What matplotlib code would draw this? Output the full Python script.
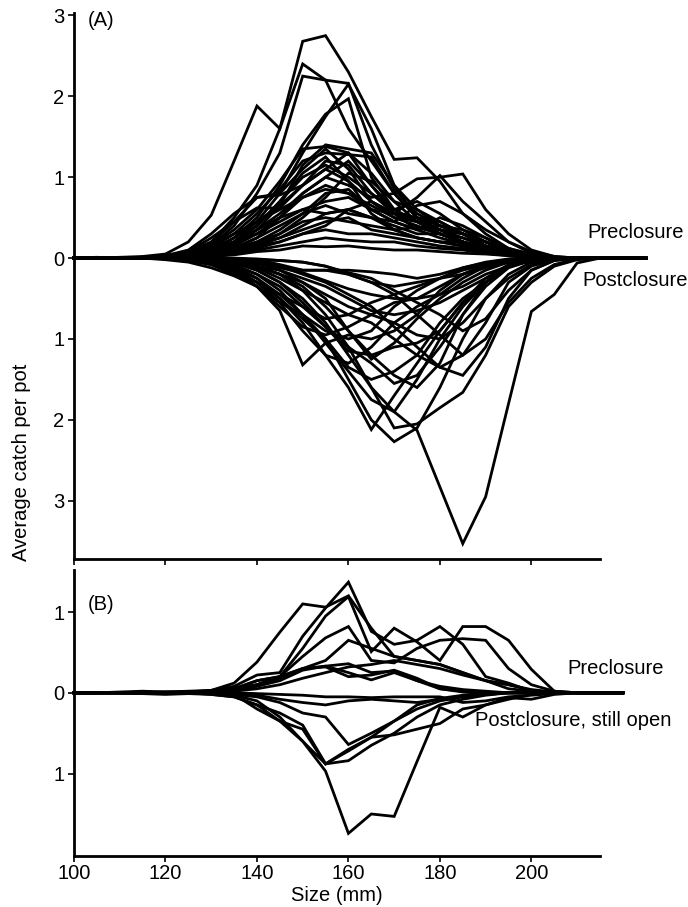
import matplotlib
matplotlib.use("Agg")
import matplotlib.pyplot as plt

plt.rcParams['font.family'] = ['Liberation Sans', 'DejaVu Sans']

# ---------------- data ----------------
SIZE_A = [100, 105, 110, 115, 120, 125, 130, 135, 140, 145, 150, 155, 160,
          165, 170, 175, 180, 185, 190, 195, 200, 205, 210, 215, 220, 225]
SIZE_B = [100, 105, 110, 115, 120, 125, 130, 135, 140, 145, 150, 155, 160,
          165, 170, 175, 180, 185, 190, 195, 200, 205, 210, 215, 220]

PRE_A = [
    [0, 0.01, 0, 0.01, 0.03, 0.08, 0.2, 0.5, 0.9, 1.6, 2.68, 2.75, 2.3, 1.75, 1.22, 1.24, 0.95, 0.55, 0.3, 0.12, 0.04, 0.01, 0, 0, 0, 0],
    [0, 0, 0.01, 0.02, 0.05, 0.2, 0.53, 1.2, 1.88, 1.6, 2.4, 2.2, 2.16, 1.4, 0.85, 0.55, 0.4, 0.3, 0.15, 0.06, 0.02, 0, 0, 0, 0, 0],
    [0, 0, 0, 0.01, 0.02, 0.06, 0.15, 0.4, 0.8, 1.3, 2.25, 2.2, 1.6, 1.2, 0.8, 0.5, 0.3, 0.2, 0.1, 0.04, 0.01, 0, 0, 0, 0, 0],
    [0, 0, 0, 0, 0.01, 0.03, 0.1, 0.25, 0.5, 0.9, 1.4, 1.78, 1.97, 1.0, 0.6, 0.45, 0.3, 0.2, 0.1, 0.03, 0.01, 0, 0, 0, 0, 0],
    [0, 0, 0, 0, 0.01, 0.02, 0.08, 0.2, 0.45, 0.8, 1.3, 1.75, 2.15, 1.6, 0.9, 0.5, 0.35, 0.2, 0.1, 0.04, 0.01, 0, 0, 0, 0, 0],
    [0, 0, 0, 0.01, 0.02, 0.05, 0.15, 0.35, 0.6, 0.95, 1.35, 1.38, 1.3, 0.9, 0.6, 0.45, 0.35, 0.25, 0.15, 0.06, 0.02, 0, 0, 0, 0, 0],
    [0, 0, 0, 0, 0.01, 0.04, 0.12, 0.3, 0.55, 0.85, 1.2, 1.3, 1.28, 1.25, 0.8, 0.5, 0.3, 0.2, 0.1, 0.05, 0.02, 0, 0, 0, 0, 0],
    [0, 0, 0, 0, 0.02, 0.05, 0.18, 0.45, 0.75, 0.8, 1.1, 1.35, 1.1, 0.7, 0.55, 0.5, 0.4, 0.3, 0.2, 0.08, 0.02, 0, 0, 0, 0, 0],
    [0, 0, 0, 0, 0.01, 0.03, 0.1, 0.2, 0.4, 0.7, 1.0, 1.15, 1.0, 0.8, 0.6, 0.7, 0.55, 0.35, 0.2, 0.08, 0.02, 0, 0, 0, 0, 0],
    [0, 0, 0, 0, 0.01, 0.03, 0.08, 0.18, 0.35, 0.55, 0.8, 1.0, 0.9, 0.75, 0.8, 0.98, 1.0, 1.04, 0.6, 0.3, 0.1, 0.02, 0, 0, 0, 0],
    [0, 0, 0, 0, 0.01, 0.02, 0.06, 0.15, 0.3, 0.5, 0.75, 0.9, 0.8, 0.6, 0.55, 0.75, 1.02, 0.7, 0.45, 0.2, 0.06, 0.01, 0, 0, 0, 0],
    [0, 0, 0, 0.01, 0.03, 0.1, 0.3, 0.55, 0.75, 0.78, 0.9, 1.1, 0.95, 0.7, 0.5, 0.4, 0.3, 0.2, 0.12, 0.05, 0.01, 0, 0, 0, 0, 0],
    [0, 0, 0, 0, 0.02, 0.08, 0.25, 0.45, 0.62, 0.62, 0.9, 1.2, 1.15, 0.8, 0.55, 0.35, 0.25, 0.18, 0.1, 0.04, 0.01, 0, 0, 0, 0, 0],
    [0, 0, 0, 0, 0.01, 0.05, 0.15, 0.3, 0.45, 0.6, 0.75, 0.85, 0.8, 0.65, 0.5, 0.45, 0.35, 0.3, 0.2, 0.1, 0.03, 0.01, 0, 0, 0, 0],
    [0, 0, 0, 0, 0.01, 0.03, 0.1, 0.2, 0.3, 0.45, 0.6, 0.7, 0.75, 0.6, 0.45, 0.35, 0.4, 0.35, 0.25, 0.12, 0.05, 0.01, 0, 0, 0, 0],
    [0, 0, 0, 0, 0.01, 0.02, 0.05, 0.12, 0.25, 0.4, 0.55, 0.65, 0.55, 0.5, 0.4, 0.3, 0.3, 0.25, 0.15, 0.08, 0.03, 0.01, 0, 0, 0, 0],
    [0, 0, 0, 0, 0, 0.02, 0.06, 0.12, 0.2, 0.3, 0.45, 0.5, 0.45, 0.4, 0.35, 0.38, 0.3, 0.2, 0.12, 0.06, 0.02, 0, 0, 0, 0, 0],
    [0, 0, 0, 0, 0, 0.01, 0.04, 0.1, 0.18, 0.25, 0.35, 0.45, 0.5, 0.35, 0.3, 0.25, 0.2, 0.2, 0.15, 0.1, 0.04, 0.01, 0, 0, 0, 0],
    [0, 0, 0, 0, 0, 0.01, 0.03, 0.08, 0.15, 0.2, 0.3, 0.35, 0.3, 0.3, 0.25, 0.2, 0.15, 0.12, 0.08, 0.04, 0.01, 0, 0, 0, 0, 0],
    [0, 0, 0, 0, 0, 0.01, 0.02, 0.05, 0.1, 0.15, 0.2, 0.25, 0.22, 0.2, 0.2, 0.15, 0.12, 0.1, 0.06, 0.03, 0.01, 0, 0, 0, 0, 0],
    [0, 0, 0, 0, 0, 0.01, 0.02, 0.04, 0.08, 0.1, 0.15, 0.14, 0.15, 0.12, 0.1, 0.1, 0.08, 0.06, 0.05, 0.03, 0.01, 0, 0, 0, 0, 0],
    [0, 0, 0, 0, 0, 0.01, 0.03, 0.08, 0.15, 0.25, 0.4, 0.55, 0.6, 0.5, 0.45, 0.65, 0.7, 0.55, 0.35, 0.2, 0.08, 0.02, 0, 0, 0, 0],
    [0, 0, 0, 0, 0.01, 0.03, 0.08, 0.2, 0.4, 0.7, 1.05, 1.25, 0.95, 0.55, 0.35, 0.25, 0.2, 0.15, 0.1, 0.05, 0.02, 0, 0, 0, 0, 0],
    [0, 0, 0, 0, 0.01, 0.04, 0.1, 0.25, 0.45, 0.65, 0.9, 1.1, 1.3, 1.05, 0.7, 0.45, 0.3, 0.2, 0.12, 0.05, 0.02, 0, 0, 0, 0, 0],
    [0, 0, 0, 0, 0.01, 0.02, 0.05, 0.12, 0.25, 0.5, 0.8, 1.0, 1.2, 0.9, 0.55, 0.5, 0.45, 0.3, 0.2, 0.1, 0.03, 0.01, 0, 0, 0, 0],
    [0, 0, 0, 0, 0, 0.01, 0.04, 0.1, 0.2, 0.35, 0.55, 0.8, 0.85, 0.6, 0.45, 0.35, 0.5, 0.4, 0.25, 0.1, 0.03, 0.01, 0, 0, 0, 0],
    [0, 0, 0, 0, 0, 0.01, 0.02, 0.06, 0.12, 0.2, 0.3, 0.4, 0.6, 0.7, 0.55, 0.45, 0.35, 0.3, 0.2, 0.1, 0.04, 0.01, 0, 0, 0, 0],
    [0, 0, 0, 0, 0.01, 0.03, 0.1, 0.2, 0.35, 0.5, 0.6, 0.55, 0.6, 0.5, 0.35, 0.25, 0.2, 0.15, 0.1, 0.05, 0.02, 0, 0, 0, 0, 0],
    [0, 0, 0, 0, 0.01, 0.02, 0.06, 0.15, 0.35, 0.65, 1.15, 1.4, 1.35, 1.3, 0.9, 0.6, 0.4, 0.3, 0.2, 0.1, 0.03, 0.01, 0, 0, 0, 0],
    [0, 0, 0, 0, 0, 0.01, 0.03, 0.08, 0.15, 0.3, 0.5, 0.75, 1.05, 0.95, 0.7, 0.6, 0.45, 0.3, 0.15, 0.06, 0.02, 0, 0, 0, 0, 0],
]

POST_A = [
    [0, 0, 0, 0, 0, -0.01, -0.02, -0.05, -0.1, -0.2, -0.4, -0.7, -1.1, -1.6, -1.9, -2.13, -2.83, -3.53, -2.95, -1.8, -0.66, -0.45, -0.06, 0, 0, 0],
    [0, 0, 0, 0, 0, -0.01, -0.02, -0.08, -0.2, -0.4, -0.7, -1.0, -1.5, -2.0, -2.27, -2.1, -1.6, -1.0, -0.5, -0.2, -0.05, -0.01, 0, 0, 0, 0],
    [0, 0, 0, 0, 0, -0.01, -0.03, -0.1, -0.25, -0.5, -0.8, -1.2, -1.6, -2.12, -1.7, -1.3, -0.9, -0.55, -0.3, -0.1, -0.03, 0, 0, 0, 0, 0],
    [0, 0, 0, 0, 0, 0, -0.02, -0.05, -0.15, -0.3, -0.5, -0.8, -1.2, -1.6, -2.1, -2.05, -1.85, -1.66, -1.2, -0.6, -0.3, -0.1, -0.02, 0, 0, 0],
    [0, 0, 0, 0, 0, -0.02, -0.08, -0.2, -0.35, -0.65, -1.32, -1.05, -0.95, -1.0, -0.9, -0.7, -0.4, -0.2, -0.08, -0.02, 0, 0, 0, 0, 0, 0],
    [0, 0, 0, 0, 0, -0.01, -0.05, -0.15, -0.3, -0.5, -0.75, -1.0, -1.35, -1.5, -1.4, -1.2, -0.8, -0.5, -0.3, -0.1, -0.03, 0, 0, 0, 0, 0],
    [0, 0, 0, 0, 0, -0.01, -0.03, -0.12, -0.3, -0.55, -0.9, -1.2, -1.3, -1.1, -0.8, -0.6, -0.45, -0.25, -0.1, -0.03, 0, 0, 0, 0, 0, 0],
    [0, 0, 0, 0, 0, 0, -0.02, -0.05, -0.1, -0.2, -0.35, -0.6, -0.9, -1.2, -1.45, -1.6, -1.3, -0.7, -0.3, -0.1, -0.02, 0, 0, 0, 0, 0],
    [0, 0, 0, 0, 0, 0, -0.01, -0.05, -0.12, -0.25, -0.4, -0.55, -0.7, -0.8, -1.0, -1.2, -1.35, -1.2, -0.8, -0.3, -0.1, -0.02, 0, 0, 0, 0],
    [0, 0, 0, 0, 0, 0, -0.01, -0.05, -0.1, -0.2, -0.3, -0.45, -0.6, -0.7, -0.8, -0.95, -1.0, -0.8, -0.5, -0.25, -0.08, -0.01, 0, 0, 0, 0],
    [0, 0, 0, 0, 0, -0.01, -0.05, -0.15, -0.35, -0.6, -0.85, -0.95, -0.85, -0.7, -0.55, -0.5, -0.35, -0.2, -0.1, -0.04, 0, 0, 0, 0, 0, 0],
    [0, 0, 0, 0, -0.01, -0.03, -0.08, -0.18, -0.3, -0.45, -0.6, -0.75, -0.7, -0.55, -0.45, -0.35, -0.25, -0.15, -0.08, -0.03, 0, 0, 0, 0, 0, 0],
    [0, 0, 0, 0, 0, 0, -0.02, -0.05, -0.1, -0.15, -0.25, -0.35, -0.5, -0.65, -0.7, -0.65, -0.55, -0.4, -0.25, -0.1, -0.03, 0, 0, 0, 0, 0],
    [0, 0, 0, 0, 0, 0, -0.01, -0.03, -0.07, -0.12, -0.18, -0.28, -0.38, -0.45, -0.5, -0.5, -0.45, -0.35, -0.2, -0.1, -0.03, 0, 0, 0, 0, 0],
    [0, 0, 0, 0, 0, 0, 0, -0.02, -0.05, -0.1, -0.15, -0.15, -0.2, -0.3, -0.35, -0.3, -0.25, -0.2, -0.12, -0.05, -0.01, 0, 0, 0, 0, 0],
    [0, 0, 0, 0, 0, 0, 0, -0.01, -0.02, -0.08, -0.15, -0.15, -0.15, -0.17, -0.2, -0.25, -0.2, -0.12, -0.06, -0.02, 0, 0, 0, 0, 0, 0],
    [0, 0, 0, 0, 0, 0, 0, 0, -0.01, -0.03, -0.05, -0.1, -0.18, -0.25, -0.4, -0.55, -0.7, -0.9, -0.75, -0.4, -0.15, -0.03, 0, 0, 0, 0],
    [0, 0, 0, 0, 0, 0, -0.01, -0.02, -0.05, -0.15, -0.3, -0.5, -0.9, -1.25, -1.05, -0.75, -0.5, -0.3, -0.15, -0.05, 0, 0, 0, 0, 0, 0],
    [0, 0, 0, 0, 0, -0.01, -0.03, -0.1, -0.2, -0.35, -0.6, -0.85, -1.1, -1.3, -1.55, -1.45, -1.1, -0.7, -0.35, -0.12, -0.03, 0, 0, 0, 0, 0],
    [0, 0, 0, 0, 0, 0, -0.01, -0.02, -0.05, -0.1, -0.2, -0.3, -0.45, -0.6, -0.85, -1.1, -1.35, -1.45, -1.1, -0.5, -0.15, -0.03, 0, 0, 0, 0],
    [0, 0, 0, 0, 0, 0, 0, -0.01, -0.02, -0.03, -0.05, -0.1, -0.2, -0.3, -0.45, -0.7, -0.95, -1.2, -1.0, -0.55, -0.25, -0.08, -0.01, 0, 0, 0],
    [0, 0, 0, 0, -0.02, -0.05, -0.12, -0.22, -0.35, -0.55, -0.7, -0.9, -1.0, -0.9, -0.6, -0.4, -0.25, -0.12, -0.05, -0.01, 0, 0, 0, 0, 0, 0],
    [0, 0, 0, 0, 0, -0.01, -0.04, -0.12, -0.25, -0.45, -0.7, -1.05, -1.4, -1.75, -1.9, -1.5, -1.0, -0.6, -0.3, -0.1, -0.02, 0, 0, 0, 0, 0],
    [0, 0, 0, 0, 0, 0, -0.02, -0.06, -0.15, -0.3, -0.55, -0.85, -1.15, -1.2, -1.1, -1.05, -0.9, -0.55, -0.25, -0.08, -0.02, 0, 0, 0, 0, 0],
]

PRE_B = [
    [0, 0, 0.01, 0.02, 0.01, 0.01, 0.03, 0.12, 0.38, 0.75, 1.1, 1.06, 1.2, 0.8, 0.45, 0.4, 0.35, 0.25, 0.15, 0.05, 0.02, 0, 0, 0, 0],
    [0, 0, 0, 0.01, 0.01, 0.02, 0.03, 0.08, 0.22, 0.25, 0.7, 1.05, 1.37, 0.76, 0.6, 0.65, 0.82, 0.6, 0.2, 0.12, 0.02, 0, 0, 0, 0],
    [0, 0, 0, 0, 0.01, 0.01, 0.02, 0.05, 0.15, 0.2, 0.55, 0.95, 1.19, 0.51, 0.8, 0.63, 0.4, 0.82, 0.82, 0.65, 0.29, 0.02, 0, 0, 0],
    [0, 0, 0, 0, 0, 0.01, 0.02, 0.05, 0.1, 0.2, 0.45, 0.68, 0.82, 0.4, 0.37, 0.55, 0.65, 0.67, 0.65, 0.3, 0.1, 0.02, 0, 0, 0],
    [0, 0, 0, 0, 0, 0.01, 0.02, 0.05, 0.1, 0.18, 0.3, 0.4, 0.65, 0.55, 0.45, 0.4, 0.35, 0.25, 0.15, 0.1, 0.03, 0, 0, 0, 0],
    [0, 0, 0, 0, 0, 0, 0.01, 0.03, 0.1, 0.2, 0.3, 0.33, 0.36, 0.25, 0.27, 0.15, 0.05, 0.02, 0, 0, 0, 0, 0, 0, 0],
    [0, 0, 0, 0, 0, 0, 0.02, 0.05, 0.15, 0.2, 0.3, 0.32, 0.2, 0.22, 0.28, 0.18, 0.05, 0.01, 0, 0, 0, 0, 0, 0, 0],
    [0, 0, 0, 0, 0, 0, 0.01, 0.02, 0.08, 0.15, 0.28, 0.33, 0.25, 0.16, 0.25, 0.15, 0.08, 0.04, 0.02, 0, 0, 0, 0, 0, 0],
    [0, 0, 0, 0, 0, 0, 0, 0.02, 0.05, 0.1, 0.18, 0.25, 0.32, 0.35, 0.4, 0.35, 0.3, 0.22, 0.15, 0.1, 0.04, 0.01, 0, 0, 0],
]

POST_B = [
    [0, 0, 0, -0.01, -0.02, -0.01, -0.02, -0.05, -0.15, -0.35, -0.6, -0.97, -1.74, -1.5, -1.53, -0.85, -0.18, -0.3, -0.15, -0.08, -0.02, 0, 0, 0, 0],
    [0, 0, 0, 0, 0, 0, -0.01, -0.03, -0.1, -0.3, -0.6, -0.88, -0.84, -0.65, -0.5, -0.3, -0.15, -0.08, -0.03, 0, 0, 0, 0, 0, 0],
    [0, 0, 0, 0, 0, 0, -0.02, -0.05, -0.15, -0.25, -0.4, -0.88, -0.72, -0.55, -0.52, -0.45, -0.38, -0.2, -0.15, -0.06, -0.08, -0.02, 0, 0, 0],
    [0, 0, 0, 0, 0, 0, 0, -0.02, -0.05, -0.12, -0.25, -0.3, -0.64, -0.5, -0.35, -0.2, -0.1, -0.05, -0.02, 0, 0, 0, 0, 0, 0],
    [0, 0, 0, 0, 0, 0, -0.01, -0.02, -0.2, -0.35, -0.45, -0.88, -0.7, -0.55, -0.35, -0.15, -0.07, -0.03, 0, 0, 0, 0, 0, 0, 0],
    [0, 0, 0, 0, 0, 0, 0, -0.01, -0.03, -0.08, -0.12, -0.15, -0.1, -0.08, -0.1, -0.12, -0.08, -0.04, -0.02, 0, 0, 0, 0, 0, 0],
    [0, 0, 0, 0, 0, 0, 0, 0, -0.01, -0.02, -0.03, -0.05, -0.05, -0.06, -0.05, -0.05, -0.05, -0.12, -0.1, -0.05, -0.03, -0.01, 0, 0, 0],
]

X_TICKS = [100, 120, 140, 160, 180, 200]
Y_TICKS_A = [-3, -2, -1, 0, 1, 2, 3]
Y_TICKS_B = [-1, 0, 1]

# ---------------- figure ----------------
W, H = 688, 907
fig = plt.figure(figsize=(W / 100, H / 100), dpi=100)
axA = fig.add_axes([74 / W, 1 - 559 / H, 526 / W, 546 / H])
axB = fig.add_axes([74 / W, 1 - 856 / H, 526 / W, 286 / H])

LW = 2.0
FS = 14.5

for ax, xs, groups, ylim, yticks in (
    (axA, SIZE_A, (PRE_A, POST_A), (-3.72, 3.03), Y_TICKS_A),
    (axB, SIZE_B, (PRE_B, POST_B), (-2.02, 1.52), Y_TICKS_B),
):
    for grp in groups:
        for ys in grp:
            ax.plot(xs, ys, color='black', lw=LW, clip_on=False,
                    solid_joinstyle='miter')
    ax.set_xlim(100, 215)
    ax.set_ylim(*ylim)
    ax.set_yticks(yticks)
    ax.set_yticklabels([str(abs(v)) for v in yticks])
    ax.set_xticks(X_TICKS)
    for s in ('top', 'right'):
        ax.spines[s].set_visible(False)
    for s in ('left', 'bottom'):
        ax.spines[s].set_linewidth(2.0)
    ax.tick_params(direction='out', length=4, width=1.2, labelsize=FS, pad=3)

axA.tick_params(axis='x', labelbottom=False)
axB.set_xticklabels([str(v) for v in X_TICKS])
axB.tick_params(axis='x', pad=1.5)

# texts
fig.text(88 / W, 1 - 20 / H, '(A)', fontsize=FS, va='center', ha='left')
fig.text(88 / W, 1 - 604 / H, '(B)', fontsize=FS, va='center', ha='left')
fig.text(587 / W, 1 - 233 / H, 'Preclosure', fontsize=FS, va='center', ha='left')
fig.text(582 / W, 1 - 280 / H, 'Postclosure', fontsize=FS, va='center', ha='left')
fig.text(567 / W, 1 - 668 / H, 'Preclosure', fontsize=FS, va='center', ha='left')
fig.text(475 / W, 1 - 720 / H, 'Postclosure, still open', fontsize=FS, va='center', ha='left')
fig.text(22 / W, 1 - 462 / H, 'Average catch per pot', fontsize=FS, rotation=90,
         va='center', ha='center')
fig.text(337 / W, 2 / H, 'Size (mm)', fontsize=FS, va='bottom', ha='center')

fig.savefig('out.png', dpi=100)
